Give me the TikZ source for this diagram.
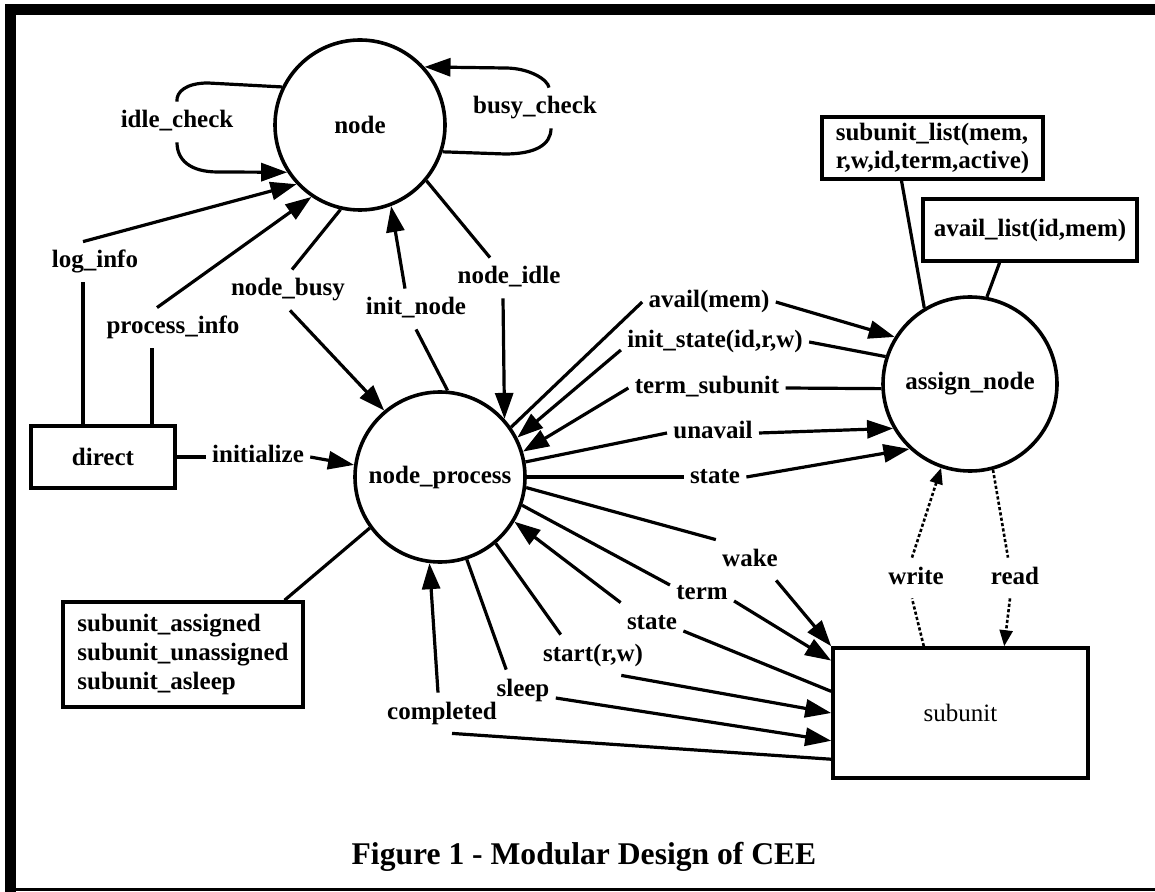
\documentclass[tikz,border=0pt]{standalone}
\usepackage{fontspec}
\setmainfont{Liberation Serif}
\usetikzlibrary{arrows.meta,calc}
\newcommand{\lblfont}{\fontsize{12.5}{14.5}\selectfont\bfseries}
\newcommand{\regfont}{\fontsize{12.5}{14.5}\selectfont}
\newcommand{\capfont}{\fontsize{15.8}{18}\selectfont\bfseries}
\begin{document}
\begin{tikzpicture}[x=0.5pt,y=-0.5pt,
  circ/.style={circle, draw, line width=1.8pt, inner sep=0pt, font=\lblfont},
  box/.style={draw, rectangle, line width=1.8pt, inner sep=0pt, font=\lblfont},
  lbl/.style={font=\lblfont, inner xsep=3pt, inner ysep=4pt, text height=9pt, text depth=3pt},
  conn/.style={line width=1.6pt},
  arr/.style={conn, -{Triangle[length=13pt,width=9pt]}},
  dot/.style={line width=1.3pt, dash pattern=on 1.6pt off 1.1pt},
  darr/.style={dot, -{Triangle[length=8pt,width=6.5pt]}}
]
\useasboundingbox (0,0) rectangle (1155,892);
% frame
\draw[line width=5.5pt] (1170,10) -- (10.5,10) -- (10.5,895);
\draw[line width=1.5pt] (10,889) -- (1170,889);

% main nodes
\node[circ, minimum size=85pt] (nodeC) at (360,125) {node};
\node[circ, minimum size=85pt] (nproc) at (440,477) {node\_process};
\node[circ, minimum size=87pt] (assign) at (970,384) {assign\_node};
\node[box, minimum width=127.5pt, minimum height=65pt, font=\regfont] (subunit) at (960.5,713) {subunit};
\node[box, minimum width=72pt, minimum height=31pt] (direct) at (103,457) {direct};
\node[box, minimum width=120pt, minimum height=52.5pt, align=left] (states) at (183,654.5)
  {subunit\_assigned\\subunit\_unassigned\\subunit\_asleep};
\node[box, minimum width=110.5pt, minimum height=31pt, align=left] (sublist) at (932.5,148)
  {subunit\_list(mem,\\[-0.5pt]r,w,id,term,active)};
\node[box, minimum width=107pt, minimum height=31pt] (availlist) at (1030,230) {avail\_list(id,mem)};

% labels
\node[lbl] (lIdle) at (177,122) {idle\_check};
\node[lbl] (lBusy) at (535,108) {busy\_check};
\node[lbl] (lLog) at (95,262) {log\_info};
\node[lbl] (lProc) at (173,328) {process\_info};
\node[lbl] (lBusyN) at (288,290) {node\_busy};
\node[lbl] (lInit) at (416,309) {init\_node};
\node[lbl] (lIdleN) at (509,278) {node\_idle};
\node[lbl] (lAvail) at (709,302) {avail(mem)};
\node[lbl] (lInitSt) at (715,342) {init\_state(id,r,w)};
\node[lbl] (lTermSub) at (707,388) {term\_subunit};
\node[lbl] (lUnavail) at (713,433) {unavail};
\node[lbl] (lState) at (715,477) {state};
\node[lbl] (lWake) at (750,560) {wake};
\node[lbl] (lTerm) at (702,593) {term};
\node[lbl] (lState2) at (652,623) {state};
\node[lbl] (lStart) at (593,655) {start(r,w)};
\node[lbl] (lSleep) at (523,690) {sleep};
\node[lbl] (lCompl) at (442,713) {completed};
\node[lbl] (lWrite) at (916,578) {write};
\node[lbl] (lRead) at (1015,578) {read};
\node[lbl] (lInitz) at (258,457) {initialize};
\node[font=\capfont] (caption) at (584,857) {Figure 1 - Modular Design of CEE};

% loops on node
\draw[conn] (nodeC.154) -- (208,83) .. controls (186,83) and (176,92) .. (lIdle.north);
\draw[arr] (lIdle.south) .. controls (177,160) and (190,172) .. (218,172) -- (nodeC.213);
\draw[conn] (nodeC.-18) -- (505,154) .. controls (535,154) and (551,145) .. ([xshift=8pt]lBusy.south);
\draw[arr] ([xshift=7pt]lBusy.north) .. controls (548,80) and (530,68) .. (505,68) -- (nodeC.42);

% direct -> node
\draw[conn] ([xshift=-10pt]direct.north) -- ([xshift=-6pt]lLog.south);
\draw[arr] ([xshift=-6pt]lLog.north) -- (nodeC.223);
\draw[conn] ([xshift=24.5pt]direct.north) -- ([xshift=-10.5pt]lProc.south);
\draw[arr] ([xshift=-8pt]lProc.north) -- (nodeC.236);

% node <-> node_process
\draw[conn] (nodeC.257) -- ([xshift=2pt]lBusyN.north);
\draw[arr] ([xshift=1pt]lBusyN.south) -- (nproc.130);
\draw[conn] (nproc.85) -- (lInit.south);
\draw[arr] ([xshift=-5.5pt]lInit.north) -- (nodeC.291);
\draw[conn] (nodeC.320) -- ([xshift=-9.5pt]lIdleN.north);
\draw[arr] ([xshift=-3pt]lIdleN.south) -- (nproc.42);

% direct -> node_process
\draw[conn] (direct.east) -- (lInitz.west);
\draw[arr] (lInitz.east) -- (nproc.172);

% node_process <-> assign_node
\draw[conn] (nproc.35) -- (lAvail.west);
\draw[arr] (lAvail.east) -- (assign.148);
\draw[conn] (assign.162) -- (lInitSt.east);
\draw[arr] ([yshift=-4pt]lInitSt.west) -- (nproc.27);
\draw[conn] (assign.183) -- (lTermSub.east);
\draw[arr] (lTermSub.west) -- (nproc.17);
\draw[conn] (nproc.10) -- (lUnavail.west);
\draw[arr] (lUnavail.east) -- (assign.210);
\draw[conn] (nproc.0) -- (lState.west);
\draw[arr] (lState.east) -- (assign.227);

% node_process <-> subunit
\draw[conn] (nproc.-7) -- (lWake.north west);
\draw[arr] ([xshift=-4pt]lWake.south east) -- (subunit.north west);
\draw[conn] (nproc.-19) -- ([yshift=4pt]lTerm.west);
\draw[arr] ([yshift=-4pt]lTerm.east) -- ($(subunit.north west)!0.108!(subunit.south west)$);
\draw[conn] ($(subunit.north west)!0.338!(subunit.south west)$) -- ([yshift=-4pt]lState2.east);
\draw[arr] (lState2.north west) -- (nproc.-31);
\draw[conn] (nproc.-50) -- ([xshift=12pt]lStart.north west);
\draw[arr] ([xshift=-14pt]lStart.south east) -- (subunit.west);
\draw[conn] (nproc.-72) -- ([xshift=8pt]lSleep.north west);
\draw[arr] ([yshift=-4pt]lSleep.east) -- ($(subunit.north west)!0.708!(subunit.south west)$);
\draw[conn] ($(subunit.north west)!0.846!(subunit.south west)$) -- ([xshift=5pt]lCompl.south);
\draw[arr] ([xshift=-2pt]lCompl.north) -- (nproc.263);

% state box
\draw[conn] (nproc.216) -- ($(states.north west)!0.917!(states.north east)$);

% data stores to assign_node
\draw[conn] ($(sublist.south west)!0.362!(sublist.south east)$) -- (assign.121);
\draw[conn] ($(availlist.south west)!0.36!(availlist.south east)$) -- (assign.79);

% subunit <-> assign_node (dotted)
\draw[dot] ($(subunit.north west)!0.358!(subunit.north east)$) -- ([xshift=-2pt]lWrite.south);
\draw[darr] ([xshift=-2pt]lWrite.north) -- (assign.251);
\draw[dot] (assign.285) -- ([xshift=-3.5pt]lRead.north);
\draw[darr] ([xshift=-2.5pt]lRead.south) -- ($(subunit.north west)!0.669!(subunit.north east)$);
\end{tikzpicture}
\end{document}
